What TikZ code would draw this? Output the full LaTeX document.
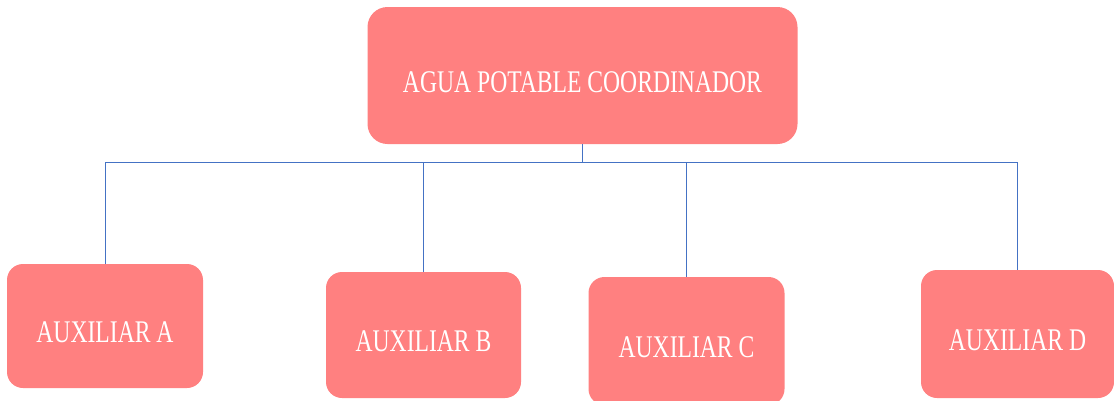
\documentclass[tikz,border=0pt]{standalone}
\usepackage{fontspec}
\newfontfamily\boxfont[FakeStretch=0.75]{Liberation Serif}
\usetikzlibrary{positioning}
\definecolor{boxred}{RGB}{255,128,128}
\definecolor{linkblue}{RGB}{68,114,196}

\begin{document}
\begin{tikzpicture}
  [x=1pt, y=-1pt, every node/.style={shape=rectangle, align=center},
   box/.style={fill=boxred, rounded corners=16pt, text=white, inner sep=0pt,
     font=\boxfont\fontsize{31.5}{31.5}\selectfont, text height=33pt, text depth=0pt},
   link/.style={draw=linkblue, line width=0.9pt}]
  \useasboundingbox (0,0) rectangle (1114,400);
  \node[box, minimum width=430pt, minimum height=137pt, rounded corners=20pt] (coord) at (582.5,75.5) {AGUA POTABLE COORDINADOR};
  \node[box, minimum width=196pt, minimum height=124pt] (auxA) at (105,326) {AUXILIAR A};
  \node[box, minimum width=195pt, minimum height=126pt] (auxB) at (423.5,335) {AUXILIAR B};
  \node[box, minimum width=196pt, minimum height=128pt] (auxC) at (686.5,341) {AUXILIAR C};
  \node[box, minimum width=193pt, minimum height=128pt] (auxD) at (1017.5,334) {AUXILIAR D};
  \coordinate (bus) at (582.5,162.5);
  \draw[link] (coord.south) -- (bus);
  \draw[link] (auxA.north) |- (bus) -| (auxD.north);
  \draw[link] (bus -| auxB.north) -- (auxB.north);
  \draw[link] (bus -| auxC.north) -- (auxC.north);
\end{tikzpicture}
\end{document}
